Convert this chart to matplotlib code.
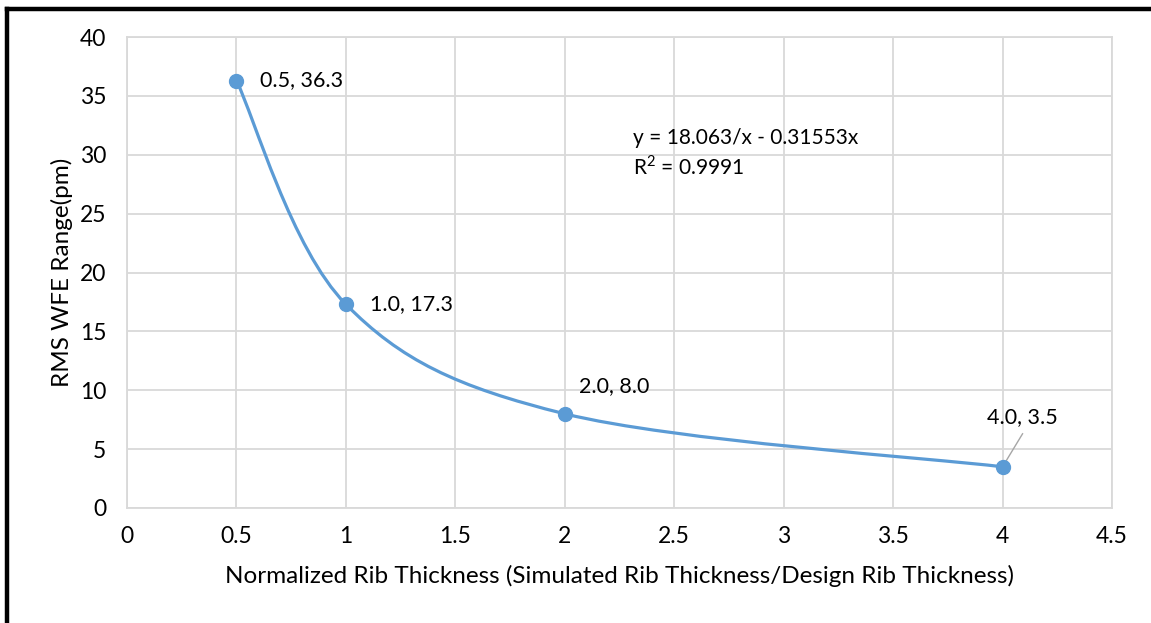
import matplotlib
matplotlib.use("Agg")
import matplotlib.pyplot as plt
from matplotlib.path import Path
from matplotlib.patches import PathPatch
from matplotlib.lines import Line2D
import numpy as np

# Data
x_vals = [0.5, 1.0, 2.0, 4.0]
y_vals = [36.3, 17.3, 8.0, 3.5]
point_labels = ["0.5, 36.3", "1.0, 17.3", "2.0, 8.0", "4.0, 3.5"]
x_ticks = [0, 0.5, 1, 1.5, 2, 2.5, 3, 3.5, 4, 4.5]
x_tick_labels = ["0", "0.5", "1", "1.5", "2", "2.5", "3", "3.5", "4", "4.5"]
y_ticks = [0, 5, 10, 15, 20, 25, 30, 35, 40]
equation = "y = 18.063/x - 0.31553x"
r2_text = "R$^2$ = 0.9991"
x_label = "Normalized Rib Thickness (Simulated Rib Thickness/Design Rib Thickness)"
y_label = "RMS WFE Range(pm)"

FONT = "Lato"
LINE_C = "#5B9BD5"
GRID_C = "#D9D9D9"
plt.rcParams["mathtext.fontset"] = "custom"
plt.rcParams["mathtext.rm"] = FONT

fig = plt.figure(figsize=(11.51, 6.23), dpi=100)
ax = fig.add_axes([127/1151, 1-508/623, (1112-127)/1151, (508-37)/623])

ax.set_xlim(0, 4.5)
ax.set_ylim(0, 40)
ax.set_xticks(x_ticks)
ax.set_xticklabels(x_tick_labels)
ax.set_yticks(y_ticks)
ax.grid(True, color=GRID_C, linewidth=1.3)
ax.set_axisbelow(True)
for s in ax.spines.values():
    s.set_color(GRID_C)
    s.set_linewidth(1.3)
ax.tick_params(length=0, labelsize=16.5)
ax.tick_params(axis="x", pad=13)
ax.tick_params(axis="y", pad=15)
for lab in ax.get_xticklabels() + ax.get_yticklabels():
    lab.set_fontfamily(FONT)

# Smooth curve (Excel-like Catmull-Rom Bezier through the points)
P = np.column_stack([x_vals, y_vals])
n = len(P)
verts = [tuple(P[0])]
codes = [Path.MOVETO]
for i in range(n - 1):
    p0 = P[i - 1] if i > 0 else P[i]
    p1 = P[i]
    p2 = P[i + 1]
    p3 = P[i + 2] if i + 2 < n else P[i + 1]
    c1 = p1 + (p2 - p0) / 6.0
    c2 = p2 - (p3 - p1) / 6.0
    verts += [tuple(c1), tuple(c2), tuple(p2)]
    codes += [Path.CURVE4] * 3
path = Path(verts, codes)
ax.add_patch(PathPatch(path, facecolor="none", edgecolor=LINE_C, linewidth=2.3,
                       capstyle="round", zorder=3))
ax.plot(x_vals, y_vals, linestyle="none", marker="o", markersize=10,
        color=LINE_C, zorder=4)

# Data labels
fs = 15.5
ax.annotate(point_labels[0], (x_vals[0], y_vals[0]), xytext=(17, 0),
            textcoords="offset points", ha="left", va="center",
            fontsize=fs, fontfamily=FONT)
ax.annotate(point_labels[1], (x_vals[1], y_vals[1]), xytext=(17, 0),
            textcoords="offset points", ha="left", va="center",
            fontsize=fs, fontfamily=FONT)
ax.annotate(point_labels[2], (x_vals[2], y_vals[2]), xytext=(10, 20),
            textcoords="offset points", ha="left", va="center",
            fontsize=fs, fontfamily=FONT)
ax.annotate(point_labels[3], (x_vals[3], y_vals[3]), xytext=(14, 36),
            textcoords="offset points", ha="center", va="center",
            fontsize=fs, fontfamily=FONT)
# leader line for last label
x4, y4 = x_vals[3], y_vals[3]
p_pix = ax.transData.transform((x4, y4))
inv = ax.transData.inverted()
end = inv.transform((p_pix[0] + 20, p_pix[1] + 33))
ax.plot([x4, end[0]], [y4, end[1]], color="#A6A6A6", linewidth=1.0, zorder=3.5)

# Trendline equation
ax.text(633/1151, 1-138/623, equation, transform=fig.transFigure,
        fontsize=15, fontfamily=FONT, ha="left", va="center")
ax.text(633/1151, 1-167/623, r2_text, transform=fig.transFigure,
        fontsize=15, fontfamily=FONT, ha="left", va="center")

ax.set_xlabel(x_label, fontsize=17.5, fontfamily=FONT, labelpad=13)
ax.set_ylabel(y_label, fontsize=17.5, fontfamily=FONT, labelpad=5)

# Outer black border (left and top)
fig.add_artist(Line2D([7/1151, 7/1151], [0, 1-8.5/623], transform=fig.transFigure,
                      color="black", linewidth=3.2, solid_capstyle="projecting"))
fig.add_artist(Line2D([7/1151, 1], [1-8.5/623, 1-8.5/623], transform=fig.transFigure,
                      color="black", linewidth=3.2, solid_capstyle="projecting"))

fig.savefig("out.png", dpi=100, facecolor="white")
